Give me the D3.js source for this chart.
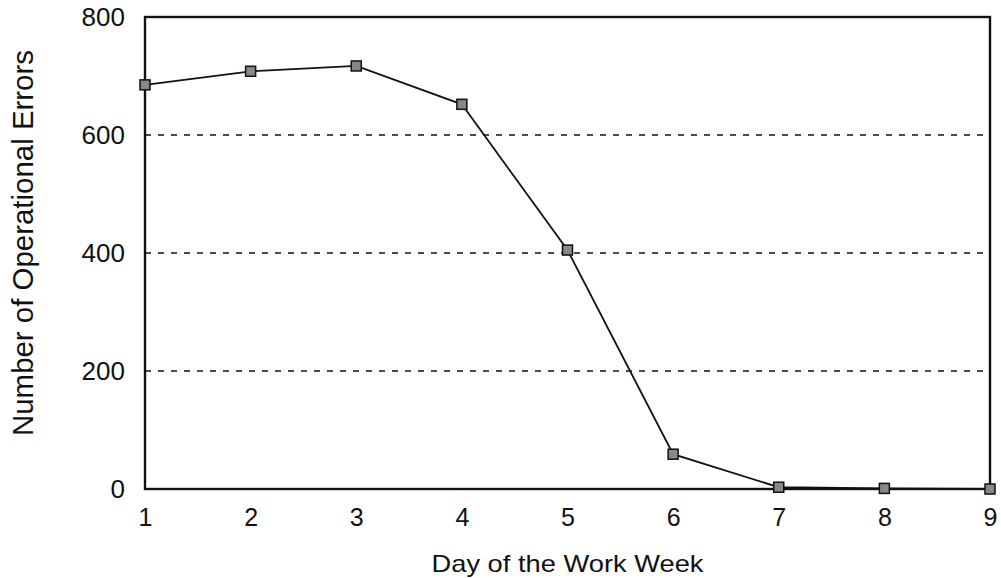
<!DOCTYPE html>
<html><head><meta charset="utf-8">
<script src="https://cdn.jsdelivr.net/npm/d3@7"></script>
<style>body{margin:0;background:#fff}text{font-family:"Liberation Sans",Arial,sans-serif;fill:#111}</style>
</head><body><svg id="c" width="1001" height="578"></svg>
<script>
const days = [1,2,3,4,5,6,7,8,9];
const errors = [685,708,717,652,405,59,3,1,0];
const yTicks = [0,200,400,600,800];
const xTicks = [1,2,3,4,5,6,7,8,9];
const xTitle = "Day of the Work Week";
const yTitle = "Number of Operational Errors";

const svg = d3.select("#c");
const m = {l:145, r:990, t:17, b:489};
const x = d3.scaleLinear().domain([1,9]).range([m.l,m.r]);
const y = d3.scaleLinear().domain([0,800]).range([m.b,m.t]);

// grid
svg.append("g").selectAll("line").data([200,400,600]).join("line")
  .attr("x1",m.l).attr("x2",m.r).attr("y1",d=>y(d)).attr("y2",d=>y(d))
  .attr("stroke","#111").attr("stroke-width",1.6).attr("stroke-dasharray","6,7");

// frame
svg.append("rect").attr("x",m.l).attr("y",m.t).attr("width",m.r-m.l).attr("height",m.b-m.t)
  .attr("fill","none").attr("stroke","#111").attr("stroke-width",2.4);

// axes labels via d3 axes
const xa = svg.append("g").attr("transform",`translate(0,${m.b})`)
  .call(d3.axisBottom(x).tickValues(xTicks).tickSize(0).tickPadding(19).tickFormat(d3.format("d")));
xa.select(".domain").remove();
xa.selectAll("text").attr("font-size",25).style("fill","#111");
const ya = svg.append("g").attr("transform",`translate(${m.l},0)`)
  .call(d3.axisLeft(y).tickValues(yTicks).tickSize(0).tickPadding(20).tickFormat(d3.format("d")));
ya.select(".domain").remove();
ya.selectAll("text").attr("font-size",26).style("fill","#111");

// line
svg.append("path").datum(days.map((d,i)=>[d,errors[i]]))
  .attr("d",d3.line().x(d=>x(d[0])).y(d=>y(d[1])))
  .attr("fill","none").attr("stroke","#111").attr("stroke-width",1.8);

// markers
svg.append("g").selectAll("rect").data(days.map((d,i)=>[d,errors[i]])).join("rect")
  .attr("x",d=>x(d[0])-5).attr("y",d=>y(d[1])-5).attr("width",10).attr("height",10)
  .attr("fill","#888").attr("stroke","#111").attr("stroke-width",1.5);

// titles
svg.append("text").attr("x",(m.l+m.r)/2).attr("y",572).attr("text-anchor","middle")
  .attr("font-size",24).attr("textLength",272).attr("lengthAdjust","spacingAndGlyphs").text(xTitle);
svg.append("text").attr("transform",`translate(33,243) rotate(-90)`).attr("text-anchor","middle")
  .attr("font-size",29).attr("textLength",386).attr("lengthAdjust","spacingAndGlyphs").text(yTitle);
</script></body></html>
